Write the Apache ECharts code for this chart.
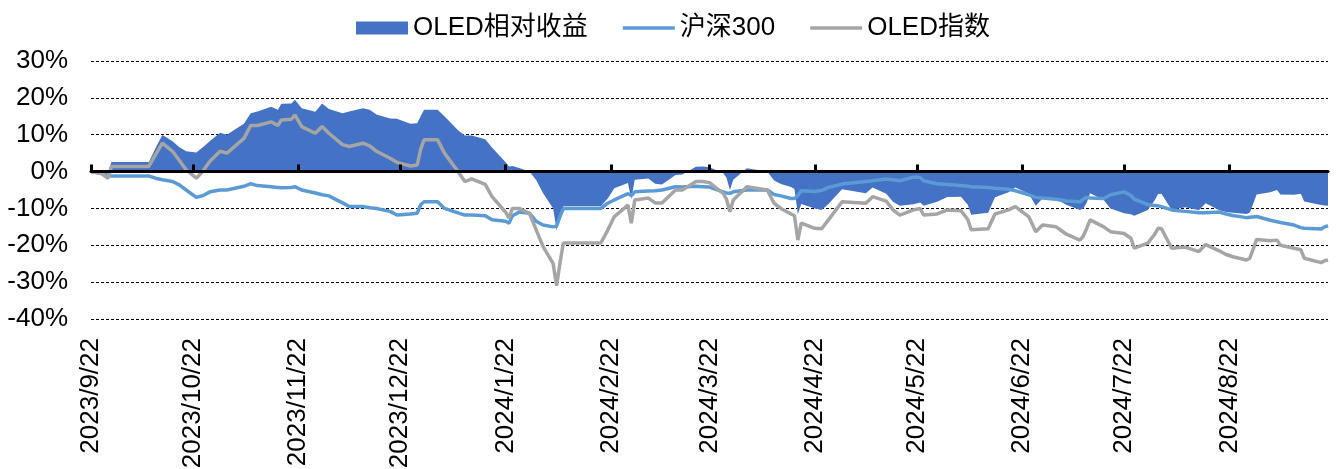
<!DOCTYPE html>
<html>
<head>
<meta charset="utf-8">
<script src="https://cdn.jsdelivr.net/npm/echarts@6/dist/echarts.min.js"></script>
<style>
html,body{margin:0;padding:0;background:#fff;}
#chart{width:1338px;height:469px;}
</style>
</head>
<body>
<div id="chart"></div>
<script>
// ---- data (values in %) ----
const dates = [
'2023-09-22','2023-09-25','2023-09-27','2023-09-28','2023-10-09','2023-10-11','2023-10-13','2023-10-16','2023-10-18','2023-10-20',
'2023-10-23','2023-10-25','2023-10-27','2023-10-30','2023-11-01','2023-11-03','2023-11-06','2023-11-08','2023-11-10','2023-11-14',
'2023-11-16','2023-11-17','2023-11-20','2023-11-21','2023-11-23','2023-11-27','2023-11-29','2023-12-01','2023-12-05','2023-12-07',
'2023-12-11','2023-12-13','2023-12-15','2023-12-19','2023-12-21','2023-12-25','2023-12-27','2023-12-28','2023-12-29','2024-01-02',
'2024-01-04','2024-01-08','2024-01-10','2024-01-12','2024-01-16','2024-01-18','2024-01-22','2024-01-23','2024-01-24','2024-01-26',
'2024-01-29','2024-01-31','2024-02-02','2024-02-05','2024-02-06','2024-02-07','2024-02-08','2024-02-19','2024-02-21','2024-02-23',
'2024-02-27','2024-02-28','2024-02-29','2024-03-04','2024-03-06','2024-03-08','2024-03-12','2024-03-14','2024-03-18','2024-03-20',
'2024-03-22','2024-03-26','2024-03-27','2024-03-28','2024-03-29','2024-04-02','2024-04-08','2024-04-10','2024-04-12','2024-04-15',
'2024-04-16','2024-04-17','2024-04-18','2024-04-22','2024-04-24','2024-04-26','2024-04-30','2024-05-07','2024-05-09','2024-05-13',
'2024-05-15','2024-05-17','2024-05-21','2024-05-23','2024-05-24','2024-05-28','2024-05-31','2024-06-04','2024-06-06','2024-06-07',
'2024-06-12','2024-06-14','2024-06-18','2024-06-20','2024-06-24','2024-06-26','2024-06-28','2024-07-02','2024-07-05','2024-07-09',
'2024-07-10','2024-07-11','2024-07-12','2024-07-16','2024-07-18','2024-07-22','2024-07-24','2024-07-25','2024-07-29','2024-07-31',
'2024-08-01','2024-08-02','2024-08-05','2024-08-07','2024-08-09','2024-08-13','2024-08-15','2024-08-19','2024-08-21','2024-08-23',
'2024-08-27','2024-08-28','2024-08-29','2024-08-30','2024-09-03','2024-09-05','2024-09-06','2024-09-10','2024-09-12','2024-09-13',
'2024-09-18','2024-09-19','2024-09-20'
];
const oledRelative = [
0,0,-0.5,2.6,2.6,6.4,9.9,8.2,6.6,5.5,
5.2,6.7,8.3,10.5,10.0,11.2,13.0,15.8,16.3,17.6,
16.8,18.4,18.5,19.5,17.2,16.2,18.5,17.0,15.8,16.3,
17.2,16.8,15.5,14.4,14.3,13.0,13.1,15.0,16.8,16.8,
15.0,11.2,9.8,9.8,8.8,6.5,2.5,1.4,1.5,1.0,
0,-2.3,-5.8,-10.0,-16.0,-12.6,-9.4,-9.4,-7.4,-4.5,
-3.1,-7.5,-2.2,-1.9,-3.3,-3.5,-0.9,-0.8,1.3,1.4,
1.2,-0.4,-1.7,-5.0,-2.2,0.9,0,-2.4,-3.4,-4.2,
-4.7,-11.5,-8.8,-10.0,-10.4,-8.8,-4.8,-5.9,-4.3,-6.0,
-8.2,-9.3,-8.9,-8.4,-9.3,-8.2,-6.9,-6.8,-9.0,-11.7,
-11.2,-7.0,-5.6,-4.3,-6.0,-9.3,-7.3,-7.5,-9.0,-10.4,
-10.0,-8.4,-5.9,-7.7,-10.0,-11.3,-11.6,-12.0,-10.4,-7.8,
-6.1,-6.0,-10.4,-10.0,-9.7,-10.5,-8.6,-10.5,-11.0,-11.2,
-11.5,-11.1,-8.7,-6.2,-5.6,-5.0,-6.2,-6.3,-6.0,-8.1,
-9.1,-9.2,-9.3
];
const hs300 = [
0,-0.5,-1.0,-1.2,-1.2,-1.8,-2.2,-2.7,-3.6,-5.0,
-7.0,-6.5,-5.5,-5.0,-5.0,-4.6,-4.0,-3.3,-3.8,-4.1,
-4.3,-4.4,-4.3,-4.1,-5.0,-5.8,-6.3,-6.6,-8.5,-9.5,
-9.5,-9.8,-10.0,-10.8,-11.8,-11.5,-11.3,-9.0,-8.2,-8.2,
-10.0,-11.2,-11.8,-11.8,-12.0,-13.1,-13.5,-14.0,-12.0,-11.0,
-11.3,-13.5,-14.5,-15.0,-14.8,-12.2,-10.0,-10.0,-8.6,-7.7,
-6.0,-6.5,-5.5,-5.3,-5.2,-5.0,-4.1,-4.2,-4.0,-4.1,
-4.2,-5.5,-5.8,-5.9,-5.5,-5.0,-5.0,-6.2,-6.6,-7.3,
-7.3,-6.5,-5.2,-5.4,-5.1,-4.3,-3.4,-2.7,-2.5,-2.0,
-2.2,-2.5,-1.5,-1.6,-2.5,-3.3,-3.5,-3.8,-4.0,-4.1,
-4.3,-4.5,-4.8,-5.2,-6.3,-7.0,-7.2,-7.5,-8.0,-8.2,
-7.5,-7.0,-7.2,-7.3,-6.3,-5.5,-6.5,-7.5,-9.0,-9.2,
-9.3,-9.5,-10.4,-10.6,-10.8,-11.2,-11.2,-11.0,-11.5,-11.9,
-12.5,-12.4,-12.3,-12.2,-13.2,-13.6,-13.8,-14.5,-15.2,-15.4,
-15.6,-15.0,-14.7
];
const oledIndex = [
0,-0.5,-1.8,1.4,1.4,4.6,7.7,5.5,3.0,0.5,
-1.8,0.2,2.8,5.5,5.0,6.6,9.0,12.5,12.5,13.5,
12.5,14.0,14.2,15.4,12.2,10.4,12.2,10.4,7.3,6.8,
7.7,7.0,5.5,3.6,2.5,1.5,1.8,6.0,8.6,8.6,
5.0,0.0,-2.7,-2.0,-3.5,-6.8,-11.0,-12.6,-10.0,-10.0,
-11.3,-15.8,-20.3,-25.0,-31.0,-24.8,-19.4,-19.4,-16.0,-12.2,
-9.1,-14.0,-7.7,-7.2,-8.5,-8.5,-5.0,-5.0,-2.7,-2.7,
-3.0,-5.9,-7.5,-10.9,-7.7,-4.1,-5.0,-8.6,-10.0,-11.5,
-12.0,-18.6,-14.0,-15.4,-15.5,-13.1,-8.2,-8.6,-6.8,-8.0,
-10.4,-11.8,-10.4,-10.0,-11.8,-11.5,-10.4,-10.6,-13.0,-15.8,
-15.5,-11.5,-10.4,-9.5,-12.3,-16.3,-14.5,-15.0,-17.0,-18.6,
-17.5,-15.4,-13.1,-15.0,-16.3,-16.8,-18.1,-20.8,-19.4,-17.0,
-15.4,-15.5,-20.8,-20.6,-20.5,-21.7,-19.8,-21.5,-22.5,-23.1,
-24.0,-23.5,-21.0,-18.4,-18.8,-18.6,-20.0,-20.8,-21.2,-23.5,
-24.7,-24.2,-24.0
];
// tick labels: the 22nd of each month
const tickLabels = ['2023/9/22','2023/10/22','2023/11/22','2023/12/22','2024/1/22','2024/2/22','2024/3/22','2024/4/22','2024/5/22','2024/6/22','2024/7/22','2024/8/22'];
const seriesNames = ['OLED相对收益','沪深300','OLED指数'];

// ---- build ----
function toTs(s){ const p = s.split(/[-\/]/).map(Number); return new Date(p[0], p[1]-1, p[2]).getTime(); }
const tickTs = tickLabels.map(toTs);
const zip = arr => dates.map((d,i)=>[toTs(d), arr[i]]);
const minTs = toTs('2023-09-22'), maxTs = toTs('2024-09-20');
const FONT = '"Liberation Sans", Arial, "Noto Sans CJK SC", sans-serif';
const fmt = v => { const d = new Date(v); return d.getFullYear()+'/'+(d.getMonth()+1)+'/'+d.getDate(); };
const LINE_ICON = 'path://M0,0 L52,0 L52,3.5 L0,3.5 Z';

const chart = echarts.init(document.getElementById('chart'), null, {renderer:'canvas'});
chart.setOption({
  animation:false,
  backgroundColor:'#fff',
  textStyle:{fontFamily:FONT},
  legend:{
    top:10, left:351, itemGap:35, itemWidth:52, itemHeight:13,
    textStyle:{fontSize:26, color:'#000', fontFamily:FONT},
    data:[{name:seriesNames[0], icon:'rect'}, {name:seriesNames[1], icon:LINE_ICON}, {name:seriesNames[2], icon:LINE_ICON}]
  },
  grid:{left:91, right:10, top:61, bottom:150, containLabel:false, outerBoundsMode:'none'},
  xAxis:{
    type:'value', min:minTs, max:maxTs, scale:true, z:10,
    axisLine:{show:true, onZero:true, lineStyle:{color:'#000', width:3}},
    axisTick:{show:true, inside:true, length:7, customValues:tickTs, lineStyle:{color:'#000', width:3}},
    axisLabel:{customValues:tickTs, rotate:90, margin:19, fontSize:26, color:'#000', fontFamily:FONT, formatter:fmt, hideOverlap:false},
    splitLine:{show:false}
  },
  yAxis:{
    type:'value', min:-40, max:30, interval:10,
    axisLine:{show:false}, axisTick:{show:false},
    axisLabel:{formatter:'{value}%', fontSize:26, color:'#000', margin:23, fontFamily:FONT},
    splitLine:{show:true, lineStyle:{color:'#000', type:[3,2], width:1}}
  },
  series:[{
    name:seriesNames[0], type:'line', data:zip(oledRelative), showSymbol:false, symbol:'none',
    lineStyle:{width:0}, itemStyle:{color:'#4472C4'}, areaStyle:{color:'#4472C4', opacity:1}, z:2
  },{
    name:seriesNames[1], type:'line', data:zip(hs300), showSymbol:false, symbol:'none',
    lineStyle:{width:3.5, color:'#5B9BD5'}, itemStyle:{color:'#5B9BD5'}, z:3
  },{
    name:seriesNames[2], type:'line', data:zip(oledIndex), showSymbol:false, symbol:'none',
    lineStyle:{width:3.5, color:'#A5A5A5'}, itemStyle:{color:'#A5A5A5'}, z:4
  }]
});
</script>
</body>
</html>
